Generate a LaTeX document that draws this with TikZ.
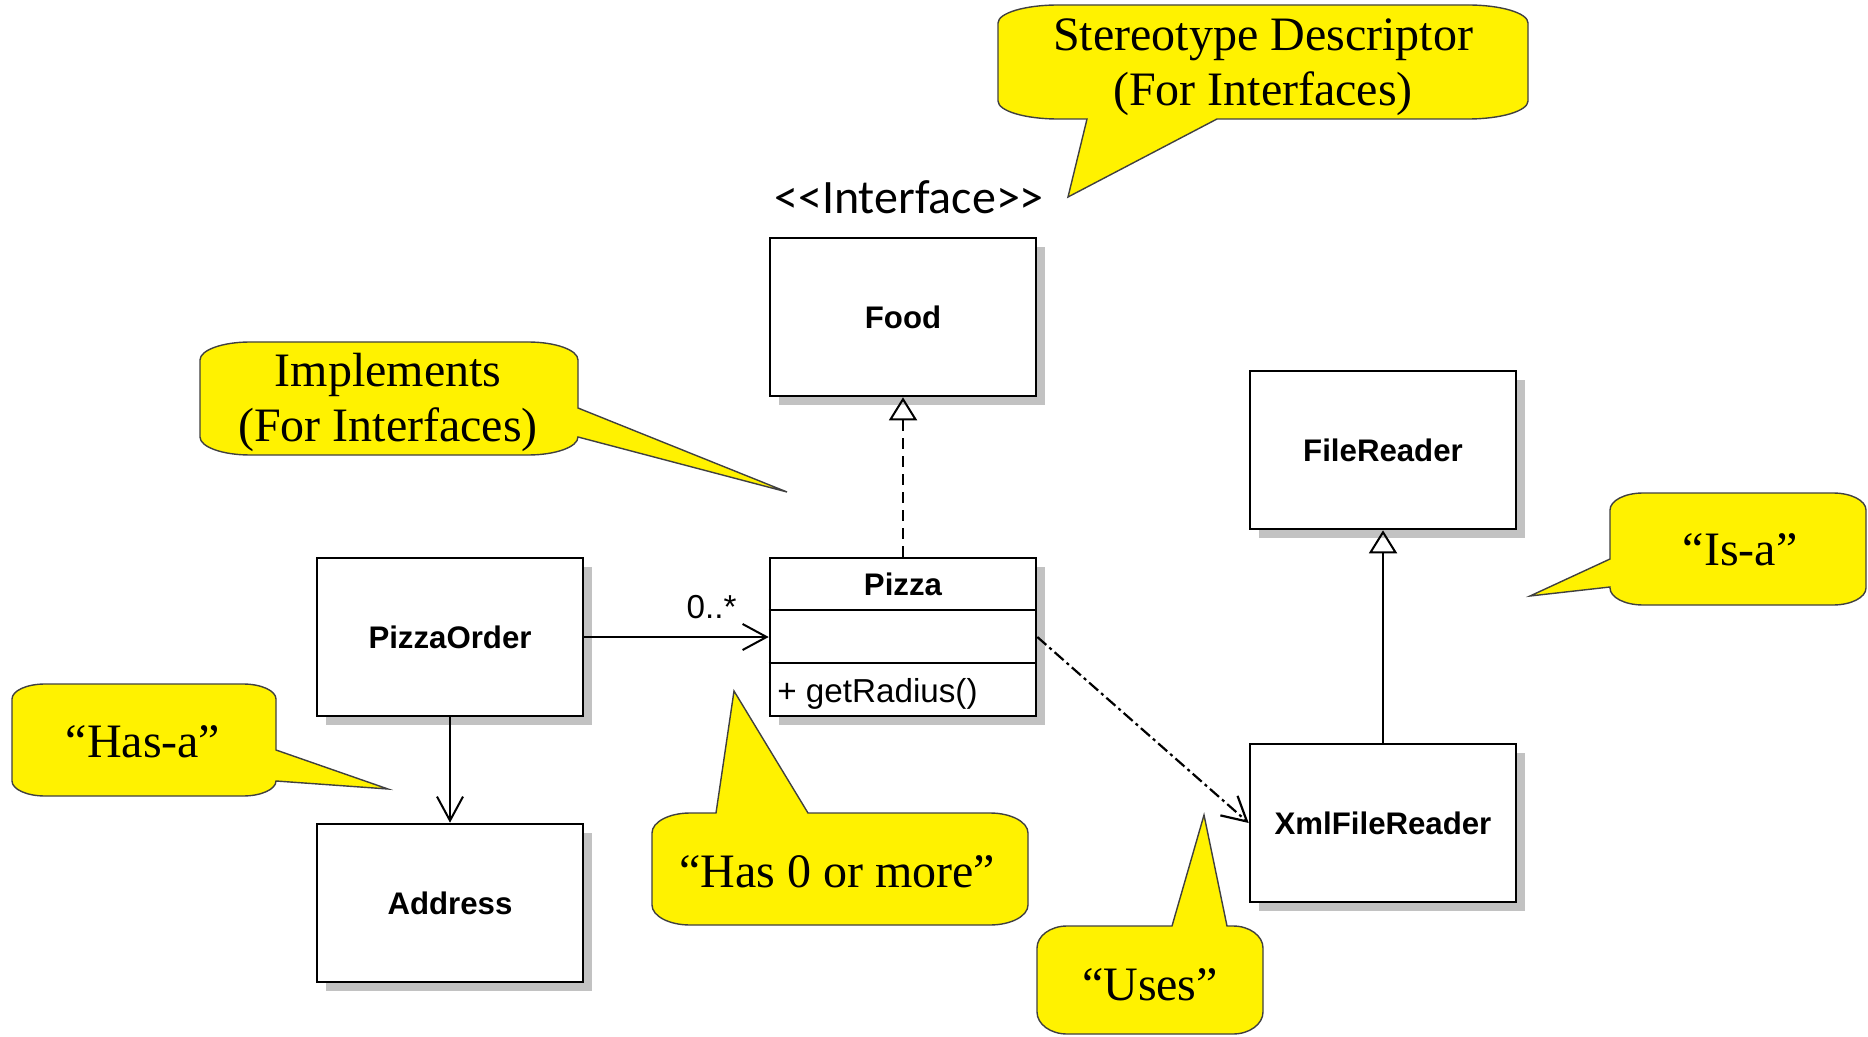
\documentclass[tikz,border=0pt]{standalone}
\usepackage{fontspec}
\setmainfont{Liberation Serif}
\newfontfamily\sansfam{Liberation Sans}
\newfontfamily\carlitofam{Carlito}
\usetikzlibrary{arrows.meta,shadows}

\newcommand\umlbold{\sansfam\bfseries\fontsize{15.6pt}{18pt}\selectfont}
\newcommand\umlreg{\sansfam\fontsize{16.6pt}{19pt}\selectfont}
\newcommand\stereofnt{\carlitofam\fontsize{24pt}{28pt}\selectfont}
\newcommand\notefnt{\fontsize{24pt}{27.5pt}\selectfont}

\tikzset{
  umlbox/.style={draw, line width=1.3pt, fill=white, inner sep=0pt,
    minimum width=133pt, minimum height=79pt, font=\umlbold,
    drop shadow={shadow xshift=4.5pt, shadow yshift=-4.5pt, fill=black!24, opacity=1}},
  divider/.style={line width=1pt},
  realize/.style={line width=1pt, dash pattern=on 5.5pt off 3.5pt,
    -{Triangle[open, length=11.5pt, width=14pt]}},
  inherit/.style={line width=1pt, -{Triangle[open, length=11.5pt, width=14pt]}},
  assoc/.style={line width=1pt, -{Straight Barb[length=12pt, width=13pt]}},
  depend/.style={line width=1.1pt, dash pattern=on 6pt off 2pt on 1.5pt off 2pt,
    -{Straight Barb[length=12pt, width=13pt]}},
  callout/.style={fill=yellow, draw=black!75, line width=0.7pt},
  notetext/.style={font=\notefnt, align=center, inner sep=0pt},
}

\begin{document}
\begin{tikzpicture}[x=0.5pt, y=0.5pt]
\useasboundingbox (0,0) rectangle (1868,-1037);

% ---- speech-bubble notes ----
\draw[callout] (1058,-5) -- (1468,-5)
  arc[start angle=90, end angle=0, x radius=30pt, y radius=9pt] -- (1528,-101)
  arc[start angle=0, end angle=-90, x radius=30pt, y radius=9pt]
  -- (1217,-119) -- (1068,-197) -- (1087,-119) -- (1058,-119)
  arc[start angle=-90, end angle=-180, x radius=30pt, y radius=9pt] -- (998,-23)
  arc[start angle=180, end angle=90, x radius=30pt, y radius=9pt] -- cycle;
\node[notetext] (notestereo) at (1263,-67) {Stereotype Descriptor\\(For Interfaces)};

\draw[callout] (250,-342) -- (528,-342)
  arc[start angle=90, end angle=0, x radius=25pt, y radius=9pt]
  -- (578,-408) -- (787,-492) -- (578,-437)
  arc[start angle=0, end angle=-90, x radius=25pt, y radius=9pt] -- (250,-455)
  arc[start angle=-90, end angle=-180, x radius=25pt, y radius=9pt] -- (200,-360)
  arc[start angle=180, end angle=90, x radius=25pt, y radius=9pt] -- cycle;
\node[notetext] (noteimpl) at (388,-402) {Implements\\(For Interfaces)};

\draw[callout] (1643,-493) -- (1833,-493)
  arc[start angle=90, end angle=0, x radius=16.5pt, y radius=8.5pt] -- (1866,-588)
  arc[start angle=0, end angle=-90, x radius=16.5pt, y radius=8.5pt] -- (1643,-605)
  arc[start angle=-90, end angle=-180, x radius=16.5pt, y radius=8.5pt]
  -- (1610,-587) -- (1530,-596) -- (1610,-559) -- (1610,-510)
  arc[start angle=180, end angle=90, x radius=16.5pt, y radius=8.5pt] -- cycle;
\node[notetext] (noteisa) at (1740,-550) {“Is-a”};

\draw[callout] (45,-684) -- (243,-684)
  arc[start angle=90, end angle=0, x radius=16.5pt, y radius=7.5pt]
  -- (276,-750) -- (388,-789) -- (276,-781)
  arc[start angle=0, end angle=-90, x radius=16.5pt, y radius=7.5pt] -- (45,-796)
  arc[start angle=-90, end angle=-180, x radius=16.5pt, y radius=7.5pt] -- (12,-699)
  arc[start angle=180, end angle=90, x radius=16.5pt, y radius=7.5pt] -- cycle;
\node[notetext] (notehasa) at (143,-742) {“Has-a”};

\draw[callout] (690,-813) -- (716,-813) -- (734,-691) -- (808,-813) -- (990,-813)
  arc[start angle=90, end angle=0, x radius=19pt, y radius=10pt] -- (1028,-905)
  arc[start angle=0, end angle=-90, x radius=19pt, y radius=10pt] -- (690,-925)
  arc[start angle=-90, end angle=-180, x radius=19pt, y radius=10pt] -- (652,-833)
  arc[start angle=180, end angle=90, x radius=19pt, y radius=10pt] -- cycle;
\node[notetext] (notemany) at (837,-872) {“Has 0 or more”};

\draw[callout] (1067,-926) -- (1172,-926) -- (1204,-815) -- (1227,-926) -- (1233,-926)
  arc[start angle=90, end angle=0, x radius=15pt, y radius=11pt] -- (1263,-1012)
  arc[start angle=0, end angle=-90, x radius=15pt, y radius=11pt] -- (1067,-1034)
  arc[start angle=-90, end angle=-180, x radius=15pt, y radius=11pt] -- (1037,-948)
  arc[start angle=180, end angle=90, x radius=15pt, y radius=11pt] -- cycle;
\node[notetext] (noteuses) at (1150,-985) {“Uses”};

% ---- classes ----
\node[font=\stereofnt, inner sep=0pt] (stereotype) at (909,-197) {<\kern0pt<Interface>\kern0pt>};
\node[umlbox] (food) at (903,-317) {Food};
\node[umlbox] (pizza) at (903,-637) {};
\draw[divider] ([yshift=-26.5pt]pizza.north west) -- ([yshift=-26.5pt]pizza.north east);
\draw[divider] ([yshift=-53pt]pizza.north west) -- ([yshift=-53pt]pizza.north east);
\node[font=\umlbold] (pizzaname) at (903,-584) {Pizza};
\node[font=\umlreg, anchor=west, inner sep=0pt] (getradius) at (777,-694) {+ getRadius()};
\node[umlbox] (order) at (450,-637) {PizzaOrder};
\node[umlbox] (address) at (450,-903) {Address};
\node[umlbox] (filereader) at (1383,-450) {FileReader};
\node[umlbox] (xmlreader) at (1383,-823) {XmlFileReader};

% ---- relationships ----
\draw[realize] (pizza) -- (food);
\draw[inherit] (xmlreader) -- (filereader);
\draw[assoc] (order) -- (pizza)
  node[pos=0.69, above=8.5pt, inner sep=0pt, font=\umlreg] (mult) {0..*};
\draw[assoc] (order) -- (address);
\draw[depend] (pizza.east) -- (xmlreader.west);
\end{tikzpicture}
\end{document}
